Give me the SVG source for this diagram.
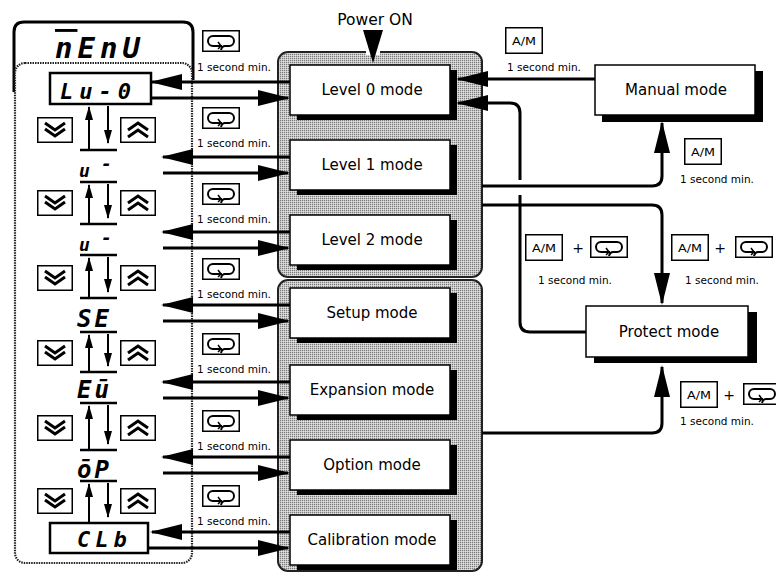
<svg xmlns="http://www.w3.org/2000/svg" xmlns:xlink="http://www.w3.org/1999/xlink" width="776" height="573" viewBox="0 0 776 573">
<style>
.t{font-family:"DejaVu Sans","Liberation Sans",sans-serif;fill:#000}
.mode{font-size:15px;text-anchor:middle}
.sec{font-size:10.5px;text-anchor:middle}
.seg{font-family:"DejaVu Sans Mono","Liberation Mono",monospace;font-weight:bold;font-style:italic;fill:#000}
.box{fill:#fff;stroke:#000;stroke-width:1.5}
.shadow{fill:#000}
.grp{fill:url(#dots);stroke:#222;stroke-width:2}
.ln{fill:none;stroke:#000;stroke-width:3}
.sm{fill:none;stroke:#000;stroke-width:2}
.hl{stroke:#000;stroke-width:2.5}
</style>
<defs>
<pattern id="dots" width="2" height="2" patternUnits="userSpaceOnUse">
<rect width="2" height="2" fill="#c6c6c6"/>
<rect width="1" height="1" fill="#7a7a7a"/>
<rect x="1" y="1" width="1" height="1" fill="#e2e2e2"/>
</pattern>
<marker id="ah" markerUnits="userSpaceOnUse" markerWidth="32" markerHeight="16" viewBox="0 0 32 16" refX="30" refY="8" orient="auto">
<path d="M0,0 L32,8 L0,16 z" fill="#000"/>
</marker>
<marker id="sa" markerUnits="userSpaceOnUse" markerWidth="14" markerHeight="8" viewBox="0 0 14 8" refX="13" refY="4" orient="auto">
<path d="M0,0 L14,4 L0,8 z" fill="#000"/>
</marker>
<symbol id="clk" viewBox="0 0 38 22" width="38" height="22" overflow="visible">
<rect x="0.75" y="0.75" width="36.5" height="20.5" fill="#fff" stroke="#000" stroke-width="1.5"/>
<path d="M20,16 H11 A5,5 0 0 1 11,6 H27 A5,5 0 0 1 27,16 H23 Q20,16 19,20" fill="none" stroke="#000" stroke-width="2"/>
<path d="M16,12 L19,16 L16,19" fill="none" stroke="#000" stroke-width="1.5"/>
</symbol>
<symbol id="am" viewBox="0 0 38 27" width="38" height="27" overflow="visible">
<rect x="0.75" y="0.75" width="36.5" height="25.5" fill="#fff" stroke="#000" stroke-width="1.5"/>
<text x="19" y="18" class="t" font-size="11" text-anchor="middle" textLength="24" lengthAdjust="spacingAndGlyphs">A/M</text>
</symbol>
<symbol id="dn" viewBox="0 0 36 26" width="36" height="26" overflow="visible">
<rect x="0.75" y="0.75" width="34.5" height="24.5" fill="#fff" stroke="#000" stroke-width="1.5"/>
<path d="M8,6 L18,13 L28,6 M8,12 L18,19 L28,12" fill="none" stroke="#000" stroke-width="3"/>
</symbol>
<symbol id="up" viewBox="0 0 36 26" width="36" height="26" overflow="visible">
<rect x="0.75" y="0.75" width="34.5" height="24.5" fill="#fff" stroke="#000" stroke-width="1.5"/>
<path d="M8,13 L18,6 L28,13 M8,20 L18,13 L28,20" fill="none" stroke="#000" stroke-width="3"/>
</symbol>
</defs>
<rect width="776" height="573" fill="#fff"/>

<!-- Menu panel -->
<g id="menu">
<path d="M14,92 V32 Q14,22 24,22 H183 Q193,22 193,32 V80" fill="none" stroke="#000" stroke-width="3"/>
<text class="seg" x="55" y="58" font-size="29" letter-spacing="5"><tspan text-decoration="overline">n</tspan>EnU</text>
</g>
<g id="menu-list">
<rect x="15" y="63" width="177" height="500" rx="10" fill="#fff" stroke="#222" stroke-width="2.2" stroke-dasharray="1.5,1"/>
<g id="lv0">
<rect x="50" y="73" width="101" height="31" fill="#fff" stroke="#000" stroke-width="2.5"/>
<text class="seg" x="60" y="99" font-size="22" letter-spacing="6">Lu-0</text>
</g>
<g id="lv1"><text class="seg" x="79" y="177" font-size="18">u<tspan x="101" y="170">-</tspan></text></g>
<g id="lv2"><text class="seg" x="79" y="251" font-size="18">u<tspan x="101" y="244">-</tspan></text></g>
<g id="se"><text class="seg" x="77" y="327" font-size="24" letter-spacing="3">SE</text></g>
<g id="ex"><text class="seg" x="77" y="398" font-size="24" letter-spacing="3">Eū</text></g>
<g id="op"><text class="seg" x="77" y="478" font-size="24" letter-spacing="3">ōP</text></g>
<g id="clb">
<rect x="50" y="523" width="98" height="30" fill="#fff" stroke="#000" stroke-width="2.5"/>
<text class="seg" x="77" y="547" font-size="22" letter-spacing="5">CLb</text>
</g>
<g id="keys">
<use href="#dn" x="37" y="117"/><use href="#up" x="120" y="117"/>
<use href="#dn" x="37" y="190"/><use href="#up" x="120" y="190"/>
<use href="#dn" x="37" y="265"/><use href="#up" x="120" y="265"/>
<use href="#dn" x="37" y="340"/><use href="#up" x="120" y="340"/>
<use href="#dn" x="37" y="415"/><use href="#up" x="120" y="415"/>
<use href="#dn" x="37" y="488"/><use href="#up" x="120" y="488"/>
</g>
<g id="bars">
<line class="hl" x1="80" y1="150" x2="117" y2="150"/>
<line class="hl" x1="80" y1="182" x2="117" y2="182"/>
<line class="hl" x1="80" y1="224" x2="117" y2="224"/>
<line class="hl" x1="80" y1="255" x2="117" y2="255"/>
<line class="hl" x1="80" y1="298" x2="117" y2="298"/>
<line class="hl" x1="80" y1="332" x2="117" y2="332"/>
<line class="hl" x1="80" y1="372" x2="117" y2="372"/>
<line class="hl" x1="80" y1="403" x2="117" y2="403"/>
<line class="hl" x1="80" y1="450" x2="117" y2="450"/>
<line class="hl" x1="80" y1="481" x2="117" y2="481"/>
</g>
</g>

<!-- Mode groups -->
<g id="group-levels">
<rect class="grp" x="278" y="52" width="204" height="225" rx="10"/>
<rect x="366" y="49" width="14" height="6" fill="#fff"/>
</g>
<g id="group-settings">
<rect class="grp" x="278" y="280" width="204" height="291" rx="10"/>
</g>
<g id="level0"><rect class="shadow" x="297" y="70" width="160" height="50"/><rect class="box" x="290" y="65" width="160" height="50"/><text class="t mode" x="372" y="95">Level 0 mode</text></g>
<g id="level1"><rect class="shadow" x="297" y="145" width="160" height="50"/><rect class="box" x="290" y="140" width="160" height="50"/><text class="t mode" x="372" y="170">Level 1 mode</text></g>
<g id="level2"><rect class="shadow" x="297" y="220" width="160" height="50"/><rect class="box" x="290" y="215" width="160" height="50"/><text class="t mode" x="372" y="245">Level 2 mode</text></g>
<g id="setup"><rect class="shadow" x="297" y="293" width="160" height="50"/><rect class="box" x="290" y="288" width="160" height="50"/><text class="t mode" x="372" y="318">Setup mode</text></g>
<g id="expansion"><rect class="shadow" x="297" y="370" width="160" height="50"/><rect class="box" x="290" y="365" width="160" height="50"/><text class="t mode" x="372" y="395">Expansion mode</text></g>
<g id="option"><rect class="shadow" x="297" y="445" width="160" height="50"/><rect class="box" x="290" y="440" width="160" height="50"/><text class="t mode" x="372" y="470">Option mode</text></g>
<g id="calibration"><rect class="shadow" x="297" y="520" width="160" height="50"/><rect class="box" x="290" y="515" width="160" height="50"/><text class="t mode" x="372" y="545">Calibration mode</text></g>
<g id="manual"><rect class="shadow" x="602" y="71" width="161" height="51"/><rect class="box" x="595" y="65" width="160" height="50"/><text class="t mode" x="676" y="95">Manual mode</text></g>
<g id="protect"><rect class="shadow" x="594" y="312" width="163" height="51"/><rect class="box" x="586" y="306" width="162" height="51"/><text class="t mode" x="669" y="337">Protect mode</text></g>

<g id="power-on">
<text class="t" x="375" y="25" font-size="15.5" text-anchor="middle">Power ON</text>
<path d="M363,30 L383,30 L373,63 z" fill="#000"/>
</g>

<!-- Connectors -->
<g id="connectors">
<path class="ln" marker-end="url(#ah)" d="M290,82 H152"/>
<path class="ln" marker-end="url(#ah)" d="M151,98 H288"/>
<path class="ln" marker-end="url(#ah)" d="M290,157 H163"/>
<path class="ln" marker-end="url(#ah)" d="M163,173 H288"/>
<path class="ln" marker-end="url(#ah)" d="M290,232 H163"/>
<path class="ln" marker-end="url(#ah)" d="M163,248 H288"/>
<path class="ln" marker-end="url(#ah)" d="M290,305 H163"/>
<path class="ln" marker-end="url(#ah)" d="M163,321 H288"/>
<path class="ln" marker-end="url(#ah)" d="M290,382 H163"/>
<path class="ln" marker-end="url(#ah)" d="M163,398 H288"/>
<path class="ln" marker-end="url(#ah)" d="M290,457 H163"/>
<path class="ln" marker-end="url(#ah)" d="M163,473 H288"/>
<path class="ln" marker-end="url(#ah)" d="M290,532 H152"/>
<path class="ln" marker-end="url(#ah)" d="M148,548 H288"/>

<g id="menu-steps">
<path class="sm" marker-end="url(#sa)" d="M89,150 V107"/><path class="sm" marker-end="url(#sa)" d="M108,106 V143"/>
<path class="sm" marker-end="url(#sa)" d="M89,224 V185"/><path class="sm" marker-end="url(#sa)" d="M108,184 V218"/>
<path class="sm" marker-end="url(#sa)" d="M89,298 V258"/><path class="sm" marker-end="url(#sa)" d="M108,257 V292"/>
<path class="sm" marker-end="url(#sa)" d="M89,372 V335"/><path class="sm" marker-end="url(#sa)" d="M108,334 V366"/>
<path class="sm" marker-end="url(#sa)" d="M89,450 V406"/><path class="sm" marker-end="url(#sa)" d="M108,405 V444"/>
<path class="sm" marker-end="url(#sa)" d="M89,523 V484"/><path class="sm" marker-end="url(#sa)" d="M108,483 V517"/>
</g>

<path class="ln" marker-end="url(#ah)" d="M595,79 H458"/>
<path class="ln" d="M586,332 H530 Q520,332 520,322 V195"/>
<path class="ln" marker-end="url(#ah)" d="M520,180 V113 Q520,103 510,103 H458"/>
<path class="ln" marker-end="url(#ah)" d="M482,186 H652 Q662,186 662,176 V123"/>
<path class="ln" marker-end="url(#ah)" d="M482,205 H652 Q662,205 662,215 V303"/>
<path class="ln" marker-end="url(#ah)" d="M482,433 H652 Q662,433 662,423 V367"/>
</g>

<!-- Labels -->
<g id="labels">
<use href="#clk" x="202" y="30"/><text class="t sec" x="234" y="71">1 second min.</text>
<use href="#clk" x="202" y="107"/><text class="t sec" x="234" y="147">1 second min.</text>
<use href="#clk" x="202" y="183"/><text class="t sec" x="234" y="223">1 second min.</text>
<use href="#clk" x="202" y="258"/><text class="t sec" x="234" y="298">1 second min.</text>
<use href="#clk" x="202" y="333"/><text class="t sec" x="234" y="373">1 second min.</text>
<use href="#clk" x="202" y="410"/><text class="t sec" x="234" y="450">1 second min.</text>
<use href="#clk" x="202" y="485"/><text class="t sec" x="234" y="525">1 second min.</text>

<use href="#am" x="505" y="27"/><text class="t sec" x="544" y="71">1 second min.</text>
<use href="#am" x="684" y="138"/><text class="t sec" x="717" y="183">1 second min.</text>

<use href="#am" x="525" y="234"/><text class="t" x="578" y="253" font-size="14" text-anchor="middle">+</text><use href="#clk" x="590" y="236"/>
<text class="t sec" x="575" y="284">1 second min.</text>
<use href="#am" x="671" y="234"/><text class="t" x="720" y="253" font-size="14" text-anchor="middle">+</text><use href="#clk" x="735" y="236"/>
<text class="t sec" x="722" y="284">1 second min.</text>
<use href="#am" x="680" y="381"/><text class="t" x="729" y="400" font-size="14" text-anchor="middle">+</text><use href="#clk" x="743" y="383"/>
<text class="t sec" x="717" y="425">1 second min.</text>
</g>
</svg>
